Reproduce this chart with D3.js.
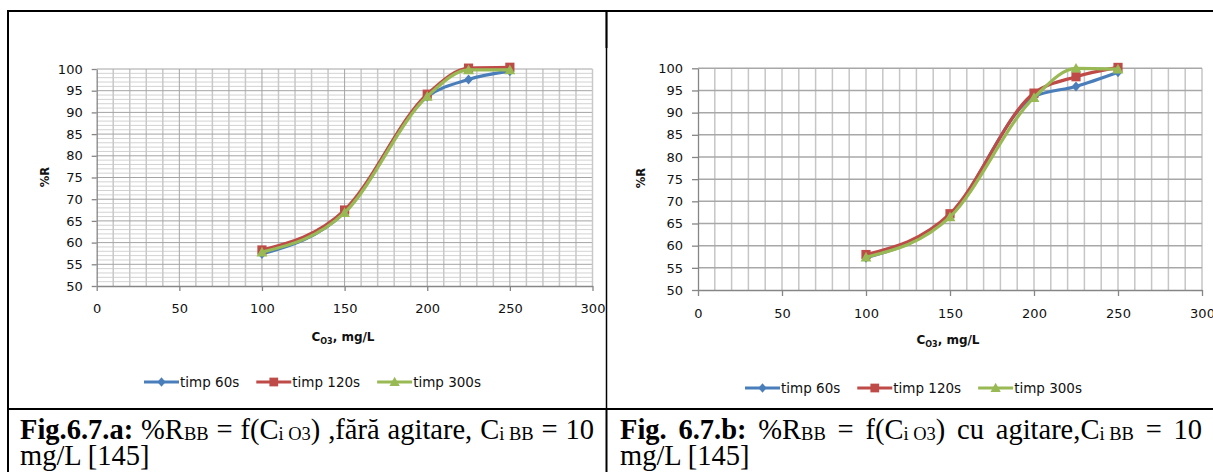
<!DOCTYPE html>
<html>
<head>
<meta charset="utf-8">
<script src="https://cdn.jsdelivr.net/npm/d3@7"></script>
<style>
  html, body { margin: 0; padding: 0; background: #fff; }
  svg { display: block; }
</style>
</head>
<body>
<svg id="fig" width="1213" height="472"></svg>
<script>
// Ozone concentration (mg/L) at which removal was measured
const concentrations = [100, 150, 200, 225, 250];
const seriesNames = ["timp 60s", "timp 120s", "timp 300s"];

// %R, without stirring (fig. 6.7.a)
const noStir60  = [57.4, 67.0, 93.6, 97.6, 99.5];
const noStir120 = [58.3, 67.5, 94.2, 100.2, 100.4];
const noStir300 = [57.8, 66.9, 93.7, 99.8, 99.8];

// %R, with stirring (fig. 6.7.b)
const stir60  = [57.3, 66.8, 93.6, 95.9, 99.1];
const stir120 = [58.0, 67.2, 94.4, 98.1, 100.2];
const stir300 = [57.4, 66.5, 93.4, 100.0, 99.8];

const xTicks = [0, 50, 100, 150, 200, 250, 300];
const yTicks = [50, 55, 60, 65, 70, 75, 80, 85, 90, 95, 100];

const captionA = [
  { t: "Fig.6.7.a:", b: true }, { t: " %R" }, { t: "BB", s: true }, { t: " = f(C" },
  { t: "i O3", s: true }, { t: ") ,fără agitare, C" }, { t: "i BB", s: true }, { t: " = 10" }
];
const captionB = [
  { t: "Fig. 6.7.b:", b: true }, { t: " %R" }, { t: "BB", s: true }, { t: " = f(C" },
  { t: "i O3", s: true }, { t: ") cu agitare,C" }, { t: "i BB", s: true }, { t: " = 10" }
];
const captionLine2 = "mg/L [145]";

const colors = ["#4a7ebb", "#be4b48", "#98b954"];
const markerTypes = ["diamond", "square", "triangle"];

const svg = d3.select("#fig");
svg.append("rect").attr("width", 1213).attr("height", 472).attr("fill", "#fff");

function markerPath(type, cx, cy, k = 1) {
  if (type === "diamond") {
    const w = 4.3 * k, h = 5 * k;
    return `M${cx},${cy - h}L${cx + w},${cy}L${cx},${cy + h}L${cx - w},${cy}Z`;
  }
  if (type === "square") {
    const r = 4.6 * k;
    return `M${cx - r},${cy - r}H${cx + r}V${cy + r}H${cx - r}Z`;
  }
  const r = 5.4 * k;
  return `M${cx},${cy - r}L${cx + r},${cy + r * 0.8}L${cx - r},${cy + r * 0.8}Z`;
}

const panels = [
  {
    id: "a", clip: [9, 48, 597, 361], xr: [96.7, 592.5], yr: [286, 69], dense: true,
    tick: 5, padY: 9, padX: 12.5, legendX: 144, legendY: 382,
    yTitle: [45, 177], xTitle: [343, 341],
    series: [noStir60, noStir120, noStir300]
  },
  {
    id: "b", clip: [607, 48, 606, 361], xr: [698, 1202], yr: [290, 68.3], dense: false,
    tick: 6, padY: 9, padX: 12.5, legendX: 745, legendY: 388,
    yTitle: [641, 178], xTitle: [948, 344],
    series: [stir60, stir120, stir300]
  }
];

const defs = svg.append("defs");

panels.forEach(p => {
  defs.append("clipPath").attr("id", "clip-" + p.id)
    .append("rect").attr("x", p.clip[0]).attr("y", p.clip[1])
    .attr("width", p.clip[2]).attr("height", p.clip[3]);

  const g = svg.append("g").attr("clip-path", `url(#clip-${p.id})`);
  const x = d3.scaleLinear().domain([0, 300]).range(p.xr);
  const y = d3.scaleLinear().domain([50, 100]).range(p.yr);

  // grid
  const grid = g.append("g");
  if (p.dense) {
    d3.range(51, 101).filter(v => v % 5 !== 0).forEach(v => {
      grid.append("line").attr("x1", x(0)).attr("x2", x(300))
        .attr("y1", y(v)).attr("y2", y(v))
        .attr("stroke", "#d2d2d2").attr("stroke-width", 1);
    });
    d3.range(10, 301, 10).filter(v => v % 50 !== 0).forEach(v => {
      grid.append("line").attr("x1", x(v)).attr("x2", x(v))
        .attr("y1", y(50)).attr("y2", y(100))
        .attr("stroke", "#c8c8c8").attr("stroke-width", 1.5);
    });
    yTicks.filter(v => v > 50).forEach(v => {
      grid.append("line").attr("x1", x(0)).attr("x2", x(300))
        .attr("y1", y(v)).attr("y2", y(v))
        .attr("stroke", "#a4a4a4").attr("stroke-width", 1);
    });
    xTicks.filter(v => v > 0).forEach(v => {
      grid.append("line").attr("x1", x(v)).attr("x2", x(v))
        .attr("y1", y(50)).attr("y2", y(100))
        .attr("stroke", v === 300 ? "#c8c8c8" : "#a4a4a4").attr("stroke-width", v === 300 ? 1.5 : 1);
    });
  } else {
    d3.range(10, 301, 10).forEach(v => {
      grid.append("line").attr("x1", x(v)).attr("x2", x(v))
        .attr("y1", y(50)).attr("y2", y(100))
        .attr("stroke", "#c6c6c6").attr("stroke-width", 1.5);
    });
    yTicks.filter(v => v > 50).forEach(v => {
      grid.append("line").attr("x1", x(0)).attr("x2", x(300))
        .attr("y1", y(v)).attr("y2", y(v))
        .attr("stroke", "#a8a8a8").attr("stroke-width", 1.5);
    });
  }

  // axes
  const yAxis = g.append("g").attr("transform", `translate(${x(0)},0)`)
    .call(d3.axisLeft(y).tickValues(yTicks).tickSize(p.tick).tickSizeOuter(0).tickPadding(p.padY));
  const xAxis = g.append("g").attr("transform", `translate(0,${y(50)})`)
    .call(d3.axisBottom(x).tickValues(xTicks).tickSize(p.tick).tickSizeOuter(0).tickPadding(p.padX));
  [yAxis, xAxis].forEach(ax => {
    ax.select(".domain").attr("stroke", "#868686").attr("stroke-width", 1.3);
    ax.selectAll(".tick line").attr("stroke", "#868686").attr("stroke-width", 1.3);
    ax.selectAll(".tick text").attr("fill", "#111")
      .style("font-family", "'DejaVu Sans', sans-serif").style("font-size", "13px");
  });

  // axis titles
  g.append("text")
    .attr("transform", `translate(${p.yTitle[0] + 4},${p.yTitle[1]}) rotate(-90)`)
    .attr("text-anchor", "middle")
    .style("font-family", "'DejaVu Sans', sans-serif").style("font-weight", "bold")
    .style("font-size", "11.5px").attr("fill", "#111").text("%R");

  const xt = g.append("text").attr("x", p.xTitle[0]).attr("y", p.xTitle[1])
    .attr("text-anchor", "middle")
    .style("font-family", "'DejaVu Sans', sans-serif").style("font-weight", "bold")
    .style("font-size", "12px").attr("fill", "#111");
  xt.append("tspan").text("C");
  xt.append("tspan").attr("dy", 2.5).style("font-size", "8px").text("O3");
  xt.append("tspan").attr("dy", -2.5).text(", mg/L");

  // series lines and markers (smoothed)
  const line = d3.line()
    .x((d, i) => x(concentrations[i]))
    .y(d => y(d))
    .curve(d3.curveMonotoneX);

  p.series.forEach((vals, si) => {
    const sg = g.append("g");
    sg.append("path").attr("d", line(vals)).attr("fill", "none")
      .attr("stroke", colors[si]).attr("stroke-width", 3.2)
      .attr("stroke-linejoin", "round").attr("stroke-linecap", "round");
    vals.forEach((v, i) => {
      sg.append("path").attr("d", markerPath(markerTypes[si], x(concentrations[i]), y(v)))
        .attr("fill", colors[si]);
    });
  });

  // legend
  let lx = p.legendX;
  const ly = p.legendY;
  seriesNames.forEach((name, si) => {
    g.append("line").attr("x1", lx).attr("x2", lx + 35).attr("y1", ly).attr("y2", ly)
      .attr("stroke", colors[si]).attr("stroke-width", 3.2);
    g.append("path").attr("d", markerPath(markerTypes[si], lx + 17.5, ly, 0.95)).attr("fill", colors[si]);
    const t = g.append("text").attr("x", lx + 36).attr("y", ly + 4.5)
      .style("font-family", "'DejaVu Sans', sans-serif").style("font-size", "13.5px")
      .attr("fill", "#111").text(name);
    lx += 36 + t.node().getComputedTextLength() + 17;
  });
});

// caption text with subscripts, first line justified to the cell width
function caption(x0, baseline, width, segs) {
  const t = svg.append("text").attr("x", x0).attr("y", baseline)
    .style("font-family", "'Liberation Serif', 'Times New Roman', serif")
    .style("font-size", "28.5px").attr("fill", "#000");
  let down = false;
  const subs = [];
  segs.forEach(sg => {
    const ts = t.append("tspan").text(sg.t);
    if (sg.b) ts.style("font-weight", "bold");
    if (sg.s) {
      ts.style("font-size", "18.5px").attr("dy", down ? 0 : 1.5);
      down = true;
      subs.push(ts);
    } else if (down) {
      ts.attr("dy", -1.5);
      down = false;
    }
  });
  const natural = t.node().getComputedTextLength();
  const spaces = segs.filter(sg => !sg.s).reduce((n, sg) => n + (sg.t.match(/ /g) || []).length, 0);
  const ws = (width - natural) / spaces;
  t.style("word-spacing", ws + "px");
  subs.forEach(s => s.style("word-spacing", "0px"));
  svg.append("text").attr("x", x0).attr("y", baseline + 26.5)
    .style("font-family", "'Liberation Serif', 'Times New Roman', serif")
    .style("font-size", "28.5px").attr("fill", "#000").text(captionLine2);
}
caption(20, 438.5, 574, captionA);
caption(620, 438.5, 582, captionB);

// table rules
const rules = svg.append("g").attr("stroke", "#000");
rules.append("line").attr("x1", 7).attr("x2", 1213).attr("y1", 11).attr("y2", 11).attr("stroke-width", 2);
rules.append("line").attr("x1", 8).attr("x2", 8).attr("y1", 10).attr("y2", 472).attr("stroke-width", 2);
rules.append("line").attr("x1", 606.5).attr("x2", 606.5).attr("y1", 10).attr("y2", 48).attr("stroke-width", 2.2);
rules.append("line").attr("x1", 606.5).attr("x2", 606.5).attr("y1", 48).attr("y2", 409).attr("stroke-width", 1.5);
rules.append("line").attr("x1", 606.5).attr("x2", 606.5).attr("y1", 409).attr("y2", 472).attr("stroke-width", 2);
rules.append("line").attr("x1", 7).attr("x2", 1213).attr("y1", 409).attr("y2", 409).attr("stroke-width", 2);
</script>
</body>
</html>
